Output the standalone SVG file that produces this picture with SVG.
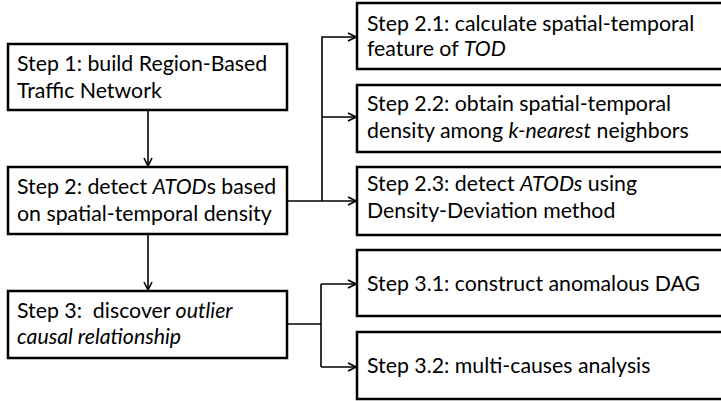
<svg xmlns="http://www.w3.org/2000/svg" width="721" height="401" viewBox="0 0 721 401">
<defs>
<marker id="arr" viewBox="0 0 10 10" refX="9" refY="5" markerWidth="10" markerHeight="10" markerUnits="userSpaceOnUse" orient="auto">
<path d="M1,1 L9,5 L1,9" fill="none" stroke="#000" stroke-width="1.6"/>
</marker>
<style>
.box{fill:#fff;stroke:#000;stroke-width:2.5}
.t{font-family:"Lato","Liberation Sans",sans-serif;font-size:21.3px;fill:#000}
.c{fill:none;stroke:#000;stroke-width:1.6}
</style>
</defs>
<rect width="721" height="401" fill="#fff"/>
<g id="step1">
<rect class="box" x="8" y="44" width="279" height="66"/>
<text class="t" x="17" y="71">Step 1: build Region-Based</text>
<text class="t" x="17" y="98">Traffic Network</text>
</g>
<g id="step2">
<rect class="box" x="8" y="167" width="279" height="67"/>
<text class="t" x="17" y="194">Step 2: detect <tspan font-style="italic">ATOD</tspan>s based</text>
<text class="t" x="17" y="221">on spatial-temporal density</text>
</g>
<g id="step3">
<rect class="box" x="8" y="291" width="279" height="67"/>
<text class="t" x="17" y="318">Step 3:&#160; discover <tspan font-style="italic">outlier</tspan></text>
<text class="t" x="17" y="344" font-style="italic">causal relationship</text>
</g>
<g id="step2_1">
<rect class="box" x="357" y="3" width="375" height="66"/>
<text class="t" x="367" y="31">Step 2.1: calculate spatial-temporal</text>
<text class="t" x="367" y="56">feature of <tspan font-style="italic">TOD</tspan></text>
</g>
<g id="step2_2">
<rect class="box" x="357" y="85" width="375" height="67"/>
<text class="t" x="367" y="111">Step 2.2: obtain spatial-temporal</text>
<text class="t" x="367" y="138">density among <tspan font-style="italic">k-nearest</tspan> neighbors</text>
</g>
<g id="step2_3">
<rect class="box" x="357" y="167" width="375" height="68"/>
<text class="t" x="367" y="191">Step 2.3: detect <tspan font-style="italic">ATODs</tspan> using</text>
<text class="t" x="367" y="218">Density-Deviation method</text>
</g>
<g id="step3_1">
<rect class="box" x="357" y="250" width="375" height="66"/>
<text class="t" x="367" y="291">Step 3.1: construct anomalous DAG</text>
</g>
<g id="step3_2">
<rect class="box" x="357" y="332" width="375" height="67"/>
<text class="t" x="367" y="373">Step 3.2: multi-causes analysis</text>
</g>
<g id="connectors">
<line class="c" x1="148" y1="110" x2="148" y2="166" marker-end="url(#arr)"/>
<line class="c" x1="148" y1="234" x2="148" y2="290" marker-end="url(#arr)"/>
<line class="c" x1="287" y1="201" x2="356" y2="201" marker-end="url(#arr)"/>
<polyline class="c" points="322,201 322,37 356,37" marker-end="url(#arr)"/>
<line class="c" x1="322" y1="117" x2="356" y2="117" marker-end="url(#arr)"/>
<line class="c" x1="287" y1="324" x2="321" y2="324"/>
<line class="c" x1="321" y1="284" x2="321" y2="367"/>
<line class="c" x1="321" y1="284" x2="356" y2="284" marker-end="url(#arr)"/>
<line class="c" x1="321" y1="367" x2="356" y2="367" marker-end="url(#arr)"/>
</g>
</svg>
